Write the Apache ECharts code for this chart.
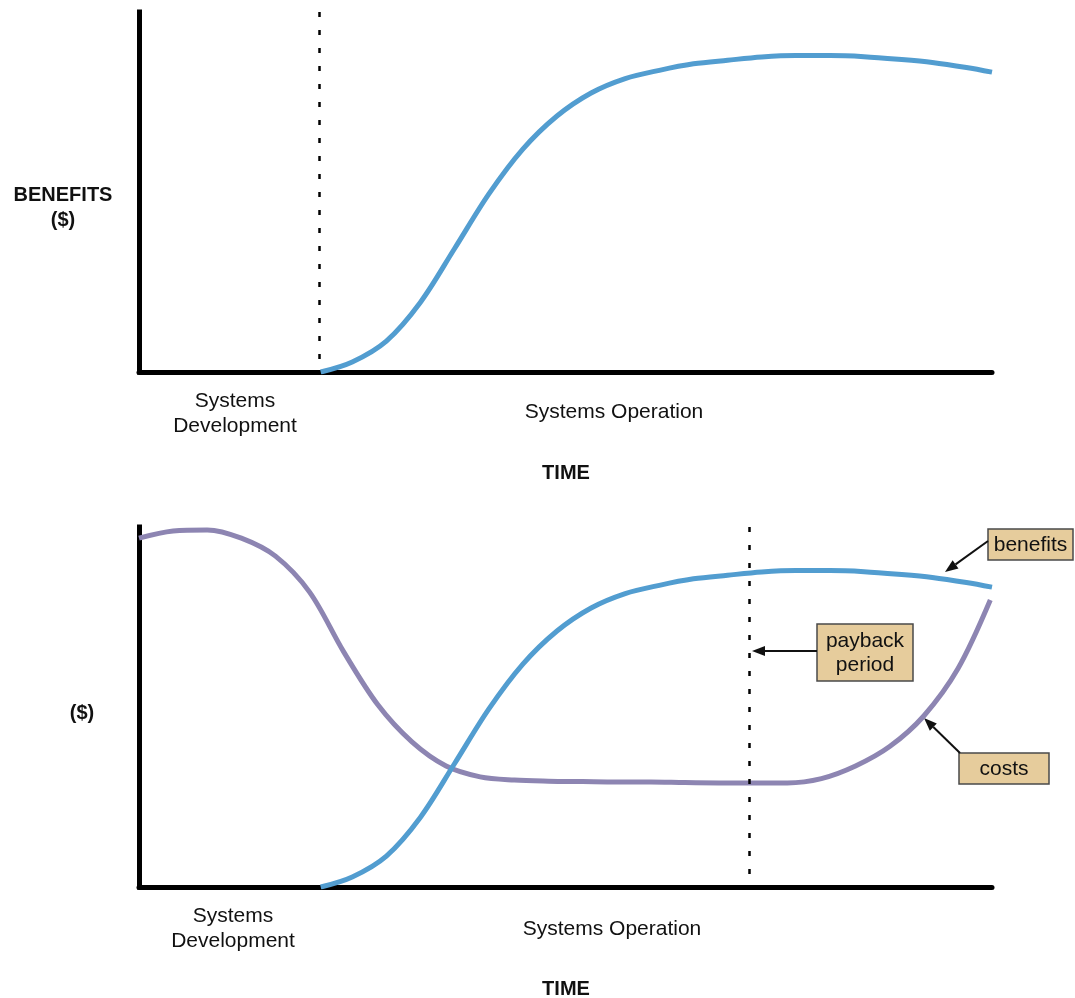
<!DOCTYPE html>
<html style="height: 100%">
  <head>
    <meta charset="utf-8" />
  </head>
  <body style="height: 100%; margin: 0; background: #fff">
    <div id="container" style="width: 1075px; height: 998px"></div>
    <script src="https://cdn.jsdelivr.net/npm/echarts@6/dist/echarts.min.js"></script>
    <script type="text/javascript">
      // time runs 0..100 across both plots, money 0..100 up the y axis
      var benefitX = [21.3, 25, 29, 33, 37, 41, 45, 49, 53, 57, 61, 65, 69, 73, 77, 81, 85, 89, 93, 97, 100];
      var benefitY = [0, 2.8, 8.6, 19.4, 34.3, 49.4, 61.9, 71.1, 77.5, 81.5, 83.8, 85.6, 86.6, 87.5, 87.9, 87.9, 87.6, 86.9, 86.0, 84.6, 83.3];

      var costX = [0, 4, 8, 12, 16, 20, 24, 28, 32, 36, 40, 44, 48, 52, 56, 60, 64, 68, 72, 76, 80, 84, 88, 92, 96, 99.8];
      var costY = [96.9, 98.9, 99.2, 96.9, 91.9, 81.9, 65.3, 50.6, 40.3, 33.6, 30.6, 29.7, 29.4, 29.3, 29.2, 29.2, 29.0, 28.9, 28.9, 28.9, 30.1, 33.6, 39.0, 47.5, 60.6, 79.7];

      var devEnd = 21.1;   // end of systems development
      var payback = 71.6;  // payback point

      var BLUE = '#529dd0';
      var PURPLE = '#8d85b2';
      var FONT = '"Liberation Sans", Arial, sans-serif';

      function pairs(xs, ys) {
        return xs.map(function (x, i) { return [x, ys[i]]; });
      }

      function axisX(idx) {
        return {
          type: 'value', gridIndex: idx, min: 0, max: 100,
          axisLine: { lineStyle: { color: '#000', width: 5 } },
          axisTick: { show: false }, axisLabel: { show: false }, splitLine: { show: false }
        };
      }
      function axisY(idx) {
        return {
          type: 'value', gridIndex: idx, min: 0, max: 100,
          axisLine: { lineStyle: { color: '#000', width: 5, cap: 'square' } },
          axisTick: { show: false }, axisLabel: { show: false }, splitLine: { show: false }
        };
      }

      // dotted vertical marker, drawn top -> bottom
      function dotted(x) {
        return {
          silent: true, symbol: 'none', label: { show: false },
          lineStyle: { color: '#000', width: 2.5, type: [5, 13] },
          data: [[{ coord: [x, 100] }, { coord: [x, 0] }]]
        };
      }

      function curve(name, idx, data, color, mark) {
        return {
          name: name, type: 'line', xAxisIndex: idx, yAxisIndex: idx,
          data: data, smooth: 0.33, showSymbol: false,
          lineStyle: { color: color, width: 5 }, markLine: mark
        };
      }

      function txt(s, x, y, bold, lh) {
        return {
          type: 'text', x: x, y: y,
          style: {
            text: s, fill: '#111', textAlign: 'center', textVerticalAlign: 'middle',
            font: (bold ? 'bold 20px ' : '21px ') + FONT, lineHeight: lh || 25
          }
        };
      }

      function box(s, x, y, w, h) {
        return [
          { type: 'rect', shape: { x: x, y: y, width: w, height: h },
            style: { fill: '#e6cc9c', stroke: '#4a4a4a', lineWidth: 1.5 } },
          txt(s, x + w / 2, y + h / 2 + 1, false, 24)
        ];
      }

      function arrow(x1, y1, x2, y2) {
        var a = Math.atan2(y2 - y1, x2 - x1), L = 13, W = 5;
        var c = Math.cos(a), s = Math.sin(a);
        var bx = x2 - L * c, by = y2 - L * s;
        return [
          { type: 'line', shape: { x1: x1, y1: y1, x2: bx, y2: by }, style: { stroke: '#111', lineWidth: 2 } },
          { type: 'polygon', shape: { points: [[x2, y2], [bx - W * s, by + W * c], [bx + W * s, by - W * c]] },
            style: { fill: '#111' } }
        ];
      }

      var graphics = [
        txt('BENEFITS', 63, 195, true),
        txt('($)', 63, 220, true),
        txt('Systems\nDevelopment', 235, 414, false),
        txt('Systems Operation', 614, 412, false),
        txt('TIME', 566, 473, true),
        txt('($)', 82, 713, true),
        txt('Systems\nDevelopment', 233, 929, false),
        txt('Systems Operation', 612, 929, false),
        txt('TIME', 566, 989, true)
      ]
        .concat(box('benefits', 988, 529, 85, 31))
        .concat(arrow(988, 541, 945, 572))
        .concat(box('payback\nperiod', 817, 624, 96, 57))
        .concat(arrow(817, 651, 752, 651))
        .concat(box('costs', 959, 753, 90, 31))
        .concat(arrow(960, 753, 924, 718));

      var chart = echarts.init(document.getElementById('container'));
      chart.setOption({
        animation: false,
        backgroundColor: '#fff',
        grid: [
          { left: 139, width: 853, top: 12, height: 360 },
          { left: 139, width: 853, top: 527, height: 360 }
        ],
        xAxis: [axisX(0), axisX(1)],
        yAxis: [axisY(0), axisY(1)],
        series: [
          curve('benefits', 0, pairs(benefitX, benefitY), BLUE, dotted(devEnd)),
          curve('costs', 1, pairs(costX, costY), PURPLE, dotted(payback)),
          curve('benefits', 1, pairs(benefitX, benefitY), BLUE)
        ],
        graphic: graphics
      });
    </script>
  </body>
</html>
